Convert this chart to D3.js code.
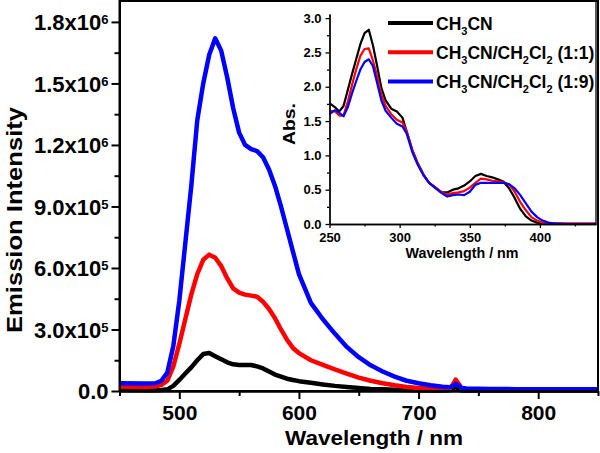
<!DOCTYPE html>
<html>
<head>
<meta charset="utf-8">
<script src="https://d3js.org/d3.v7.min.js"></script>
<style>
  body { margin: 0; background: #fff; }
  svg text { font-family: "Liberation Sans", Arial, sans-serif; font-weight: bold; fill: #000; }
</style>
</head>
<body>
<div id="chart"></div>
<script>
// emission spectra (intensity in units of 1e5)
var emWl = [450, 470, 480, 485, 490, 495, 500, 505, 510, 515, 520, 525, 530, 535, 540, 545, 550, 555, 560, 565,
  570, 575, 580, 585, 590, 595, 600, 610, 620, 630, 640, 650, 660, 670, 680, 690, 700, 710, 720, 726,
  729, 731, 733, 736, 740, 760, 780, 800, 850];
var emBlack = [0.05, 0.04, 0.04, 0.05, 0.08, 0.25, 0.54, 0.85, 1.15, 1.5, 1.8, 1.85, 1.7, 1.55, 1.4, 1.3, 1.27, 1.27, 1.27, 1.2,
  1.1, 0.95, 0.8, 0.7, 0.6, 0.54, 0.48, 0.4, 0.32, 0.25, 0.2, 0.15, 0.1, 0.08, 0.06, 0.05, 0.04, 0.03, 0.03, 0.04,
  0.12, 0.22, 0.12, 0.03, 0.02, 0.02, 0.02, 0.02, 0.02];
var emRed = [0.21, 0.2, 0.22, 0.3, 0.5, 1.2, 2.3, 3.5, 4.7, 5.7, 6.4, 6.65, 6.5, 6.1, 5.5, 5.0, 4.8, 4.7, 4.65, 4.6,
  4.35, 4.0, 3.55, 3.0, 2.5, 2.1, 1.85, 1.5, 1.27, 1.05, 0.85, 0.65, 0.5, 0.38, 0.28, 0.2, 0.15, 0.1, 0.08, 0.1,
  0.35, 0.55, 0.4, 0.12, 0.06, 0.05, 0.05, 0.05, 0.05];
var emBlue = [0.38, 0.36, 0.38, 0.5, 0.9, 2.2, 4.4, 7.2, 10.0, 13.2, 15.0, 16.4, 17.2, 16.6, 15.3, 13.8, 12.6, 12.0, 11.8, 11.7,
  11.4, 10.8, 10.0, 9.0, 7.9, 6.8, 5.7, 4.3, 3.5, 2.8, 2.15, 1.65, 1.25, 0.95, 0.7, 0.5, 0.38, 0.28, 0.21, 0.18,
  0.25, 0.35, 0.28, 0.15, 0.12, 0.1, 0.09, 0.08, 0.08];

// absorption spectra (inset)
var abWl = [250, 254, 257, 260, 263, 266, 269, 272, 275, 278, 281, 284, 287, 290, 294, 298, 302, 305, 309, 313,
  317, 321, 325, 330, 334, 338, 342, 346, 350, 354, 358, 362, 366, 370, 374, 378, 382, 386, 390, 394,
  398, 402, 406, 410, 420, 440];
var abBlack = [1.76, 1.7, 1.64, 1.72, 1.95, 2.18, 2.4, 2.62, 2.78, 2.83, 2.6, 2.3, 1.98, 1.8, 1.68, 1.64, 1.55, 1.35, 1.08, 0.88,
  0.72, 0.6, 0.54, 0.46, 0.46, 0.5, 0.52, 0.56, 0.62, 0.7, 0.73, 0.7, 0.68, 0.65, 0.62, 0.52, 0.38, 0.22, 0.11, 0.05,
  0.02, 0.01, 0.0, 0.0, 0.0, 0.0];
var abRed = [1.65, 1.64, 1.58, 1.58, 1.78, 2.02, 2.25, 2.45, 2.55, 2.56, 2.38, 2.15, 1.88, 1.72, 1.6, 1.52, 1.48, 1.35, 1.08, 0.88,
  0.72, 0.6, 0.54, 0.46, 0.43, 0.45, 0.46, 0.48, 0.53, 0.6, 0.66, 0.65, 0.63, 0.62, 0.61, 0.58, 0.47, 0.32, 0.2, 0.1,
  0.05, 0.02, 0.01, 0.01, 0.01, 0.01];
var abBlue = [1.6, 1.66, 1.62, 1.57, 1.7, 1.9, 2.08, 2.25, 2.36, 2.4, 2.3, 2.05, 1.8, 1.65, 1.55, 1.46, 1.42, 1.32, 1.05, 0.86,
  0.71, 0.6, 0.53, 0.45, 0.4, 0.42, 0.43, 0.42, 0.47, 0.57, 0.6, 0.6, 0.6, 0.6, 0.6, 0.58, 0.52, 0.42, 0.3, 0.18,
  0.1, 0.05, 0.02, 0.01, 0.0, 0.0];

var seriesNames = ["CH3CN", "CH3CN/CH2Cl2 (1:1)", "CH3CN/CH2Cl2 (1:9)"];
var seriesColors = ["#000000", "#ff0000", "#0000ff"];

var emTicks = [0, 3e5, 6e5, 9e5, 12e5, 15e5, 18e5];
var emTickLabels = [["0.0", ""], ["3.0x10", "5"], ["6.0x10", "5"], ["9.0x10", "5"], ["1.2x10", "6"], ["1.5x10", "6"], ["1.8x10", "6"]];
var wlTicks = [500, 600, 700, 800];
var abTicks = [0, 0.5, 1.0, 1.5, 2.0, 2.5, 3.0];
var abWlTicks = [250, 300, 350, 400];

var W = 600, H = 453;
var svg = d3.select("#chart").append("svg").attr("width", W).attr("height", H);

// ---- main plot ----
var x = d3.scaleLinear().domain([450, 850]).range([119.5, 598]);
var y = d3.scaleLinear().domain([0, 1.902e6]).range([391, 1]);

var line = d3.line()
    .x(function (d) { return x(d[0]); })
    .y(function (d) { return y(d[1] * 1e5); });

[emBlack, emRed, emBlue].forEach(function (s, i) {
    svg.append("path")
        .datum(emWl.map(function (w, j) { return [w, s[j]]; }))
        .attr("d", line)
        .attr("fill", "none")
        .attr("stroke", seriesColors[i])
        .attr("stroke-width", 4.5)
        .attr("stroke-linejoin", "round");
});

// frame
svg.append("rect").attr("x", 119.5).attr("y", 1).attr("width", 478.5).attr("height", 390)
    .attr("fill", "none").attr("stroke", "#000").attr("stroke-width", 2);

var xAxis = svg.append("g").attr("transform", "translate(0,391)")
    .call(d3.axisBottom(x).tickValues(wlTicks).tickSize(8).tickSizeOuter(0).tickPadding(6).tickFormat(d3.format("d")));
svg.append("g").attr("transform", "translate(0,391)")
    .call(d3.axisBottom(x).tickValues([450, 550, 650, 750, 850]).tickSize(5).tickSizeOuter(0).tickFormat(""));
xAxis.selectAll("text").style("font-size", "21px").attr("dy", "0.71em");

var yAxis = svg.append("g").attr("transform", "translate(119.5,0)")
    .call(d3.axisLeft(y).tickValues(emTicks).tickSize(8).tickSizeOuter(0).tickPadding(3).tickFormat(""));
svg.append("g").attr("transform", "translate(119.5,0)")
    .call(d3.axisLeft(y).tickValues([1.5e5, 4.5e5, 7.5e5, 10.5e5, 13.5e5, 16.5e5]).tickSize(5).tickSizeOuter(0).tickFormat(""));
yAxis.selectAll(".tick").each(function (d, i) {
    var t = d3.select(this).append("text")
        .attr("x", -11).attr("dy", "0.35em")
        .attr("text-anchor", "end")
        .style("font-size", "22px");
    t.append("tspan").text(emTickLabels[i][0]);
    if (emTickLabels[i][1]) {
        t.append("tspan").attr("dy", "-0.45em").style("font-size", "13px").text(emTickLabels[i][1]);
    }
});
svg.selectAll(".domain").attr("stroke-width", 2);
svg.selectAll(".tick line").attr("stroke-width", 2);

svg.append("text").attr("x", 374).attr("y", 445).attr("text-anchor", "middle")
    .style("font-size", "21px").attr("textLength", 178).attr("lengthAdjust", "spacingAndGlyphs")
    .text("Wavelength / nm");
svg.append("text").attr("transform", "translate(22,220) rotate(-90)").attr("text-anchor", "middle")
    .style("font-size", "22px").attr("textLength", 226).attr("lengthAdjust", "spacingAndGlyphs")
    .text("Emission Intensity");

// ---- inset ----
var ix = d3.scaleLinear().domain([250, 440]).range([329.5, 596]);
var iy = d3.scaleLinear().domain([0, 3.06]).range([224, 14]);
var iline = d3.line()
    .x(function (d) { return ix(d[0]); })
    .y(function (d) { return iy(d[1]); });

[abBlack, abRed, abBlue].forEach(function (s, i) {
    svg.append("path")
        .datum(abWl.map(function (w, j) { return [w, s[j]]; }))
        .attr("d", iline)
        .attr("fill", "none")
        .attr("stroke", seriesColors[i])
        .attr("stroke-width", 2.2)
        .attr("stroke-linejoin", "round");
});

var ixAxis = svg.append("g").attr("class", "inset").attr("transform", "translate(0,224)")
    .call(d3.axisBottom(ix).tickValues(abWlTicks).tickSize(4).tickSizeOuter(0).tickPadding(5).tickFormat(d3.format("d")));
svg.append("g").attr("class", "inset").attr("transform", "translate(0,224)")
    .call(d3.axisBottom(ix).tickValues([275, 325, 375, 425]).tickSize(2.5).tickSizeOuter(0).tickFormat(""));
ixAxis.selectAll("text").style("font-size", "13px").attr("dy", "0.71em");

var iyAxis = svg.append("g").attr("class", "inset").attr("transform", "translate(329.5,0)")
    .call(d3.axisLeft(iy).tickValues(abTicks).tickSize(4).tickSizeOuter(0).tickPadding(4).tickFormat(d3.format(".1f")));
svg.append("g").attr("class", "inset").attr("transform", "translate(329.5,0)")
    .call(d3.axisLeft(iy).tickValues([0.25, 0.75, 1.25, 1.75, 2.25, 2.75]).tickSize(2.5).tickSizeOuter(0).tickFormat(""));
iyAxis.selectAll("text").style("font-size", "13px");
svg.selectAll(".inset .domain").attr("stroke-width", 1.3);
svg.selectAll(".inset .tick line").attr("stroke-width", 1.3);

svg.append("line").attr("x1", 596).attr("x2", 596).attr("y1", 1).attr("y2", 224)
    .attr("stroke", "#000").attr("stroke-width", 1.3);

svg.append("text").attr("x", 462).attr("y", 258).attr("text-anchor", "middle")
    .style("font-size", "15px").attr("textLength", 113).attr("lengthAdjust", "spacingAndGlyphs")
    .text("Wavelength / nm");
svg.append("text").attr("transform", "translate(295,124) rotate(-90)").attr("text-anchor", "middle")
    .style("font-size", "16px").attr("textLength", 42).attr("lengthAdjust", "spacingAndGlyphs")
    .text("Abs.");

// ---- legend ----
var legend = svg.append("g").attr("transform", "translate(388,23)");
seriesNames.forEach(function (name, i) {
    var g = legend.append("g").attr("transform", "translate(0," + (i * 29.2) + ")");
    g.append("line").attr("x1", 0).attr("x2", 45).attr("stroke", seriesColors[i]).attr("stroke-width", 4);
    var t = g.append("text").attr("x", 48).attr("y", 6.5).style("font-size", "17.5px");
    // digits after a letter become subscripts
    var sub = false;
    name.replace(/([A-Za-z])(\d)/g, "$1|$2|").split("|").forEach(function (p) {
        if (p === "") return;
        if (/^\d$/.test(p)) {
            t.append("tspan").attr("dy", 5).style("font-size", "11px").text(p);
            sub = true;
        } else {
            t.append("tspan").attr("dy", sub ? -5 : 0).text(p);
            sub = false;
        }
    });
});
</script>
</body>
</html>
